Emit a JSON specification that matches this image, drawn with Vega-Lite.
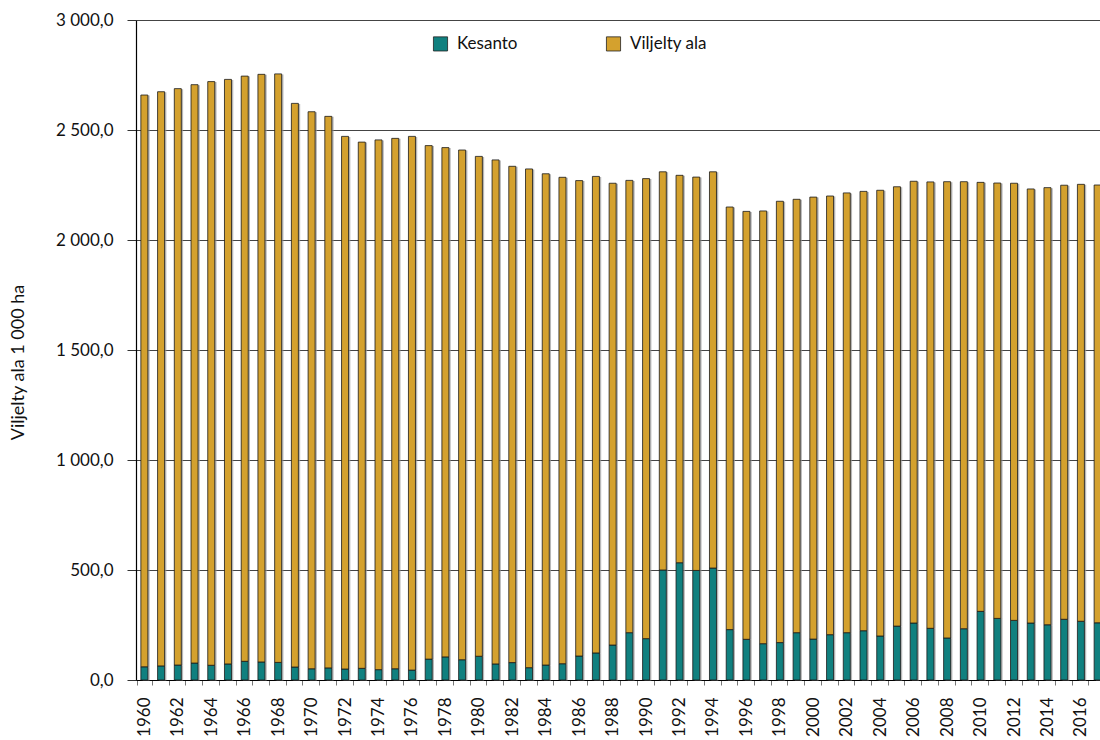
{
  "$schema": "https://vega.github.io/schema/vega-lite/v6.json",
  "width": 964,
  "height": 660,
  "autosize": {"type": "none"},
  "padding": {"left": 136, "top": 20, "right": 0, "bottom": 60},
  "background": "white",
  "config": {
    "locale": {"number": {"decimal": ",", "thousands": " ", "grouping": [3], "currency": ["", ""]}},
    "font": "Lato",
    "view": {"stroke": null}
  },
  "data": {
    "values": [
      {"year": 1960, "Kesanto": 60, "Viljelty ala": 2599},
      {"year": 1961, "Kesanto": 64, "Viljelty ala": 2610},
      {"year": 1962, "Kesanto": 68, "Viljelty ala": 2620},
      {"year": 1963, "Kesanto": 77, "Viljelty ala": 2629},
      {"year": 1964, "Kesanto": 67, "Viljelty ala": 2653},
      {"year": 1965, "Kesanto": 73, "Viljelty ala": 2657},
      {"year": 1966, "Kesanto": 85, "Viljelty ala": 2660},
      {"year": 1967, "Kesanto": 82, "Viljelty ala": 2671},
      {"year": 1968, "Kesanto": 80, "Viljelty ala": 2675},
      {"year": 1969, "Kesanto": 59, "Viljelty ala": 2562},
      {"year": 1970, "Kesanto": 51, "Viljelty ala": 2532},
      {"year": 1971, "Kesanto": 55, "Viljelty ala": 2507},
      {"year": 1972, "Kesanto": 50, "Viljelty ala": 2421},
      {"year": 1973, "Kesanto": 53, "Viljelty ala": 2392},
      {"year": 1974, "Kesanto": 47, "Viljelty ala": 2408},
      {"year": 1975, "Kesanto": 51, "Viljelty ala": 2411},
      {"year": 1976, "Kesanto": 45, "Viljelty ala": 2426},
      {"year": 1977, "Kesanto": 95, "Viljelty ala": 2334},
      {"year": 1978, "Kesanto": 105, "Viljelty ala": 2315},
      {"year": 1979, "Kesanto": 92, "Viljelty ala": 2317},
      {"year": 1980, "Kesanto": 108, "Viljelty ala": 2272},
      {"year": 1981, "Kesanto": 73, "Viljelty ala": 2291},
      {"year": 1982, "Kesanto": 79, "Viljelty ala": 2256},
      {"year": 1983, "Kesanto": 56, "Viljelty ala": 2267},
      {"year": 1984, "Kesanto": 68, "Viljelty ala": 2233},
      {"year": 1985, "Kesanto": 74, "Viljelty ala": 2211},
      {"year": 1986, "Kesanto": 109, "Viljelty ala": 2161},
      {"year": 1987, "Kesanto": 123, "Viljelty ala": 2166},
      {"year": 1988, "Kesanto": 159, "Viljelty ala": 2099},
      {"year": 1989, "Kesanto": 215, "Viljelty ala": 2056},
      {"year": 1990, "Kesanto": 188, "Viljelty ala": 2091},
      {"year": 1991, "Kesanto": 500, "Viljelty ala": 1810},
      {"year": 1992, "Kesanto": 533, "Viljelty ala": 1761},
      {"year": 1993, "Kesanto": 498, "Viljelty ala": 1788},
      {"year": 1994, "Kesanto": 509, "Viljelty ala": 1801},
      {"year": 1995, "Kesanto": 229, "Viljelty ala": 1921},
      {"year": 1996, "Kesanto": 185, "Viljelty ala": 1945},
      {"year": 1997, "Kesanto": 165, "Viljelty ala": 1967},
      {"year": 1998, "Kesanto": 170, "Viljelty ala": 2006},
      {"year": 1999, "Kesanto": 215, "Viljelty ala": 1970},
      {"year": 2000, "Kesanto": 186, "Viljelty ala": 2009},
      {"year": 2001, "Kesanto": 206, "Viljelty ala": 1994},
      {"year": 2002, "Kesanto": 215, "Viljelty ala": 1999},
      {"year": 2003, "Kesanto": 224, "Viljelty ala": 1997},
      {"year": 2004, "Kesanto": 200, "Viljelty ala": 2026},
      {"year": 2005, "Kesanto": 245, "Viljelty ala": 1997},
      {"year": 2006, "Kesanto": 259, "Viljelty ala": 2008},
      {"year": 2007, "Kesanto": 235, "Viljelty ala": 2029},
      {"year": 2008, "Kesanto": 191, "Viljelty ala": 2074},
      {"year": 2009, "Kesanto": 233, "Viljelty ala": 2032},
      {"year": 2010, "Kesanto": 312, "Viljelty ala": 1950},
      {"year": 2011, "Kesanto": 280, "Viljelty ala": 1979},
      {"year": 2012, "Kesanto": 271, "Viljelty ala": 1987},
      {"year": 2013, "Kesanto": 259, "Viljelty ala": 1973},
      {"year": 2014, "Kesanto": 251, "Viljelty ala": 1987},
      {"year": 2015, "Kesanto": 276, "Viljelty ala": 1973},
      {"year": 2016, "Kesanto": 267, "Viljelty ala": 1986},
      {"year": 2017, "Kesanto": 260, "Viljelty ala": 1990}
    ]
  },
  "transform": [{"fold": ["Kesanto", "Viljelty ala"], "as": ["series", "value"]}],
  "encoding": {
    "x": {
      "field": "year",
      "type": "ordinal",
      "scale": {"range": [0, 970]},
      "axis": {
        "title": null,
        "labelAngle": 270,
        "labelAlign": "right",
        "labelBaseline": "middle",
        "labelFontSize": 17,
        "labelColor": "#111",
        "labelPadding": 12,
        "labelExpr": "datum.value % 2 == 0 ? datum.value : ''",
        "tickBand": "extent",
        "tickSize": 5,
        "tickColor": "#777",
        "domainColor": "#000",
        "domainWidth": 1.2
      }
    },
    "y": {
      "field": "value",
      "type": "quantitative",
      "stack": "zero",
      "scale": {"domain": [0, 3000], "nice": false},
      "axis": {
        "values": [0, 500, 1000, 1500, 2000, 2500, 3000],
        "format": ",.1f",
        "title": "Viljelty ala  1 000 ha",
        "titleFontSize": 18,
        "titleFontWeight": "normal",
        "titleColor": "#111",
        "titleAngle": 270,
        "titleX": -118,
        "titleY": 342,
        "titleAlign": "center",
        "titleBaseline": "middle",
        "labelFontSize": 17,
        "labelColor": "#111",
        "labelPadding": 14,
        "tickSize": 9,
        "tickColor": "#333",
        "domainColor": "#000",
        "domainWidth": 1.2,
        "grid": true,
        "gridColor": "#444",
        "gridWidth": 1
      }
    },
    "order": {"field": "series", "sort": "ascending"}
  },
  "layer": [
    {
      "mark": {"type": "bar", "size": 7, "color": "#999", "opacity": 0.7, "xOffset": 1.8, "yOffset": 0.5},
      "encoding": {"detail": {"field": "series"}}
    },
    {
      "mark": {"type": "bar", "size": 7, "stroke": "#1a1a1a", "strokeWidth": 0.8},
      "encoding": {
        "color": {
          "field": "series",
          "type": "nominal",
          "scale": {"domain": ["Kesanto", "Viljelty ala"], "range": ["#10807F", "#D4A12E"]},
          "legend": {
            "title": null,
            "orient": "none",
            "legendX": 296,
            "legendY": 15,
            "direction": "horizontal",
            "columnPadding": 86,
            "symbolType": "square",
            "symbolSize": 200,
            "symbolStrokeColor": "#222",
            "symbolStrokeWidth": 0.8,
            "symbolOpacity": 1,
            "labelFontSize": 17,
            "labelColor": "#111",
            "labelOffset": 8
          }
        }
      }
    }
  ]
}
